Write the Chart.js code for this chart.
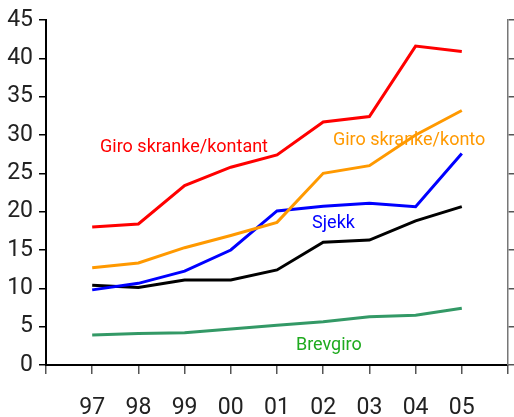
<!DOCTYPE html>
<html>
<head>
<meta charset="utf-8">
<script src="https://cdn.jsdelivr.net/npm/chart.js@4/dist/chart.umd.min.js"></script>
<style>
  html, body { margin: 0; padding: 0; background: #fff; }
</style>
</head>
<body>
<canvas id="chart" width="514" height="417"></canvas>
<script>
const years = ['97', '98', '99', '00', '01', '02', '03', '04', '05'];
const kontant = [18.0, 18.4, 23.4, 25.8, 27.4, 31.7, 32.4, 41.6, 40.9];
const konto = [12.7, 13.3, 15.3, 16.9, 18.6, 25.0, 26.0, 30.0, 33.2];
const sjekk = [9.8, 10.65, 12.25, 15.0, 20.1, 20.7, 21.1, 20.65, 27.6];
const sum = [10.4, 10.1, 11.1, 11.1, 12.4, 16.0, 16.3, 18.8, 20.65];
const brevgiro = [3.9, 4.1, 4.2, 4.7, 5.2, 5.65, 6.3, 6.5, 7.4];

const font = "Roboto, 'Liberation Sans', sans-serif";
const tickFont = { family: font, size: 23 };

const toPoints = vals => vals.map((v, i) => ({ x: i + 1, y: v }));

const line = (data, color) => ({
    data: toPoints(data),
    borderColor: color,
    borderWidth: 3,
    pointRadius: 0,
    tension: 0,
    fill: false
});

// tekstene inne i figuren, plassert i dataverdier
const labels = [
    { text: 'Giro skranke/kontant', x: 1.17, y: 28.4, color: '#ff0000' },
    { text: 'Giro skranke/konto', x: 6.21, y: 29.3, color: '#ff9900' },
    { text: 'Sjekk', x: 5.76, y: 18.5, color: '#0000ff' },
    { text: 'Brevgiro', x: 5.41, y: 2.6, color: '#1faa1f' }
];

const labelPlugin = {
    id: 'seriesLabels',
    afterDatasetsDraw(chart) {
        const { ctx, scales } = chart;
        ctx.save();
        ctx.font = '18px ' + font;
        ctx.textBaseline = 'middle';
        ctx.textAlign = 'left';
        labels.forEach(l => {
            ctx.fillStyle = l.color;
            ctx.fillText(l.text, scales.x.getPixelForValue(l.x), scales.y.getPixelForValue(l.y));
        });
        ctx.restore();
    }
};

new Chart(document.getElementById('chart'), {
    type: 'line',
    data: {
        datasets: [
            line(kontant, '#ff0000'),
            line(konto, '#ff9900'),
            line(sjekk, '#0000ff'),
            line(sum, '#000000'),
            line(brevgiro, '#339966')
        ]
    },
    options: {
        responsive: false,
        animation: false,
        layout: { padding: { top: 20, left: 0, right: 0, bottom: 0 } },
        plugins: { legend: { display: false }, tooltip: { enabled: false } },
        scales: {
            x: {
                type: 'linear',
                min: 0,
                max: 10,
                afterFit: s => { s.height = 52; s.paddingLeft = 0; s.paddingRight = 0; },
                ticks: {
                    stepSize: 1,
                    autoSkip: false,
                    maxRotation: 0,
                    padding: 20,
                    color: '#222',
                    font: tickFont,
                    callback: v => years[v - 1] || ''
                },
                grid: { drawOnChartArea: false, tickLength: 9, tickColor: '#555', lineWidth: 1.5 },
                border: { color: '#000', width: 2 }
            },
            y: {
                min: 0,
                max: 45,
                afterFit: s => { s.width = 46; },
                ticks: {
                    stepSize: 5,
                    padding: 6,
                    color: '#222',
                    font: tickFont
                },
                grid: { drawOnChartArea: false, tickLength: 7, tickColor: '#000', lineWidth: 1.5 },
                border: { color: '#000', width: 2 }
            },
            y2: {
                position: 'right',
                min: 0,
                max: 45,
                afterFit: s => { s.width = 6; },
                ticks: { stepSize: 5, display: false },
                grid: { drawOnChartArea: false, tickLength: 6, tickColor: '#555', lineWidth: 1.5 },
                border: { color: '#777', width: 1.5 }
            }
        }
    },
    plugins: [labelPlugin]
});
</script>
</body>
</html>
